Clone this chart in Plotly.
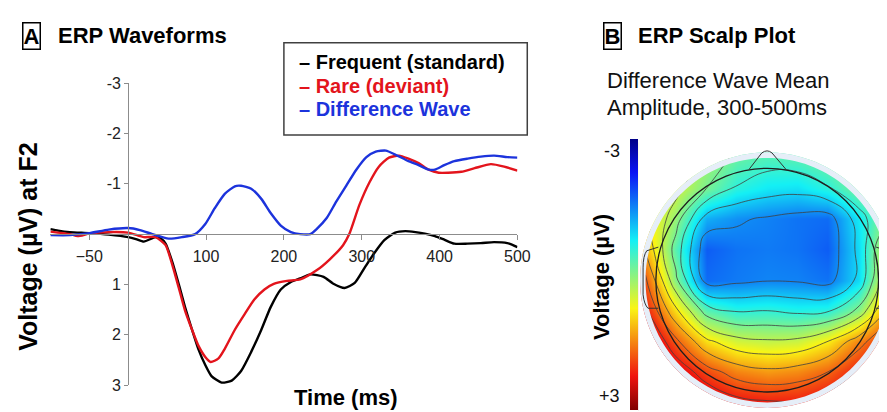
import numpy as np
import plotly.graph_objects as go

W, H = 887, 412
def px(x):
    return x / W
def py(y):
    return 1 - y / H

FONT = "Liberation Sans, Arial, Helvetica, sans-serif"

# ---------------- Panel A: ERP waveforms (voltage in µV, time in ms) -------------
time_freq = [-100, -90, -75, -50, -25, 0, 10, 20, 35, 42, 48, 57, 65, 73, 82, 90, 99, 107, 120,
             133, 145, 158, 171, 183, 196, 209, 221, 234, 251, 263, 278, 291, 304, 316, 329,
             343, 356, 369, 381, 394, 406, 419, 436, 453, 470, 487, 500]
volt_freq = [-0.10, -0.07, -0.04, -0.02, 0.01, 0.06, 0.10, 0.15, 0.06, 0.09, 0.19, 0.57, 1.00,
             1.45, 1.90, 2.28, 2.60, 2.82, 2.95, 2.91, 2.72, 2.34, 1.90, 1.45, 1.10, 0.95, 0.88,
             0.80, 0.85, 0.98, 1.07, 0.97, 0.66, 0.38, 0.12, -0.03, -0.06, -0.04, -0.01, 0.04,
             0.11, 0.19, 0.19, 0.18, 0.16, 0.18, 0.26]

time_rare = [-100, -75, -65, -50, -25, 0, 20, 35, 48, 57, 65, 73, 82, 90, 99, 106, 116, 124,
             137, 150, 162, 175, 187, 204, 221, 242, 259, 276, 284, 297, 310, 322, 335, 348,
             360, 373, 386, 399, 411, 428, 445, 466, 483, 500]
volt_rare = [-0.05, 0.00, 0.04, -0.01, -0.04, -0.03, 0.06, 0.06, 0.22, 0.63, 1.07, 1.52, 1.90,
             2.21, 2.44, 2.54, 2.47, 2.28, 1.90, 1.58, 1.30, 1.10, 0.99, 0.93, 0.90, 0.72, 0.50,
             0.22, 0.00, -0.58, -1.03, -1.34, -1.52, -1.56, -1.50, -1.41, -1.28, -1.22, -1.22,
             -1.24, -1.31, -1.39, -1.34, -1.26]

time_diff = [-100, -75, -50, -25, 0, 15, 31, 52, 69, 86, 99, 111, 124, 137, 145, 158, 171, 183,
             196, 209, 221, 234, 242, 255, 267, 280, 293, 306, 318, 331, 343, 360, 373, 386,
             394, 406, 419, 436, 453, 470, 487, 500]
volt_diff = [0.02, 0.02, -0.02, -0.09, -0.12, -0.08, 0.00, 0.09, 0.06, 0.00, -0.20, -0.51,
             -0.80, -0.95, -0.96, -0.90, -0.70, -0.42, -0.17, -0.04, 0.00, 0.00, -0.10, -0.32,
             -0.64, -0.96, -1.28, -1.53, -1.64, -1.66, -1.58, -1.45, -1.37, -1.28, -1.28, -1.37,
             -1.45, -1.50, -1.54, -1.56, -1.53, -1.52]

series_names = ["Frequent (standard)", "Rare (deviant)", "Difference Wave"]
series_colors = ["#000000", "#e3141c", "#1c33dc"]

x_tickvals = [-50, 100, 200, 300, 400, 500]
y_tickvals = [-3, -2, -1, 1, 2, 3]
y_ticktext = ["-3", "-2", "-1", "1", "2", "3"]

# ---------------- Panel B: scalp map (µV on a grid over the head, unit radius) ----
scalp_u = [-1.0, -0.75, -0.5, -0.25, 0.0, 0.25, 0.5, 0.75, 1.0]
scalp_v_top_down = [1.0, 0.75, 0.5, 0.25, 0.0, -0.25, -0.5, -0.75, -1.0]
scalp_rows = [
    [1.0, 0.6, 0.2, -0.2, -0.35, -0.3, -0.1, 0.2, 0.5],
    [0.9, 0.5, -0.1, -0.6, -0.8, -0.85, -0.6, -0.1, 0.3],
    [0.9, 0.1, -1.2, -1.4, -1.5, -1.6, -1.65, -0.8, 0.1],
    [1.2, -0.3, -1.75, -1.6, -1.55, -1.6, -1.75, -0.9, 0.6],
    [1.8, 0.0, -1.65, -1.55, -1.48, -1.5, -1.6, -0.9, 0.8],
    [2.2, 0.9, -0.3, -0.6, -0.55, -0.65, -0.6, 0.0, 1.4],
    [2.8, 1.8, 0.9, 0.5, 0.4, 0.45, 0.8, 1.5, 2.2],
    [3.2, 2.5, 1.9, 1.5, 1.35, 1.45, 1.7, 2.2, 2.8],
    [3.5, 3.0, 2.6, 2.3, 2.2, 2.2, 2.4, 2.7, 3.0],
]
scalp_v = scalp_v_top_down[::-1]
scalp_volt = np.array(scalp_rows[::-1])

cb_limits = [-3, 3]

# jet colour map (low voltage = dark blue, high voltage = dark red)
jet = [[0.0, "rgb(0,0,135)"], [0.125, "rgb(10,20,245)"], [0.375, "rgb(20,240,245)"],
       [0.625, "rgb(250,245,20)"], [0.875, "rgb(240,20,15)"], [1.0, "rgb(128,0,0)"]]
# colour bar has -3 at the top, so plot the negated field with the flipped map
jet_flipped = [[1 - s, c] for s, c in jet[::-1]]

fig = go.Figure()

for t, v, name, col in zip([time_freq, time_rare, time_diff],
                           [volt_freq, volt_rare, volt_diff], series_names, series_colors):
    fig.add_trace(go.Scatter(x=t, y=v, mode="lines", name=name, showlegend=False,
                             line=dict(color=col, width=2.4, shape="spline", smoothing=0.6),
                             xaxis="x", yaxis="y"))

fig.add_trace(go.Heatmap(
    x=scalp_u, y=scalp_v, z=-scalp_volt, customdata=scalp_volt,
    zmin=-cb_limits[1], zmax=-cb_limits[0], colorscale=jet_flipped, zsmooth="best",
    xaxis="x2", yaxis="y2", hovertemplate="%{customdata:.2f} µV<extra></extra>",
    colorbar=dict(x=px(631), xanchor="left", xpad=0, ypad=0, thickness=8,
                  lenmode="pixels", len=271, y=py(269.5), yanchor="middle",
                  showticklabels=False, ticks="", outlinewidth=0)))

fig.add_trace(go.Contour(
    x=scalp_u, y=scalp_v, z=scalp_volt, xaxis="x2", yaxis="y2", showscale=False,
    contours=dict(start=-1.45, end=3.0, size=0.45, coloring="lines"),
    colorscale=[[0, "#404040"], [1, "#404040"]],
    line=dict(width=0.8, smoothing=1.3), hoverinfo="skip"))

axis_col = "#8c8c8c"
tick_font = dict(family=FONT, size=16, color="#222222")

fig.update_layout(
    width=W, height=H, autosize=False, margin=dict(l=0, r=0, t=0, b=0),
    paper_bgcolor="white", plot_bgcolor="rgba(0,0,0,0)",
    xaxis=dict(domain=[px(43), px(517)], range=[-100, 500], anchor="free",
               position=(py(385) + py(70)) / 2, showline=True, linecolor=axis_col,
               linewidth=1, ticks="outside", ticklen=5, tickcolor=axis_col,
               tickvals=x_tickvals, tickfont=tick_font, showgrid=False, zeroline=False,
               ticklabelstandoff=3),
    yaxis=dict(domain=[py(385), py(70)], range=[3, -3], anchor="free", position=px(122),
               showline=True, linecolor=axis_col, linewidth=1, ticks="outside", ticklen=4,
               tickcolor=axis_col, tickvals=y_tickvals, ticktext=y_ticktext,
               tickfont=tick_font, showgrid=False, zeroline=False),
    xaxis2=dict(domain=[px(640), 1.0], range=[(640 - 770.5) / 123.5, (887 - 770.5) / 123.5],
                visible=False, anchor="y2", fixedrange=True),
    yaxis2=dict(domain=[0.0, py(130)], range=[(275.5 - 412) / 127.5, (275.5 - 130) / 127.5],
                visible=False, anchor="x2", fixedrange=True),
)

# ---- scalp mask, halo ring, head outline, nose, ears ----
def circle_path(r, n=160):
    th = np.linspace(0, 2 * np.pi, n, endpoint=False)
    pts = " L ".join(f"{r*np.cos(a):.4f},{r*np.sin(a):.4f}" for a in th)
    return f"M {pts} Z"

rect = "M -3,-3 L 3,-3 L 3,3 L -3,3 Z"
shapes = [
    dict(type="path", path=rect + " " + circle_path(1.045), xref="x2", yref="y2",
         fillcolor="white", fillrule="evenodd", line=dict(width=0), layer="above"),
    dict(type="path", path=circle_path(1.045) + " " + circle_path(1.0), xref="x2", yref="y2",
         fillcolor="#e6eef8", fillrule="evenodd", line=dict(width=0), layer="above"),
    dict(type="circle", x0=-0.915, x1=0.915, y0=-0.915, y1=0.915, xref="x2", yref="y2",
         line=dict(color="#1e1e1e", width=1.3), layer="above"),
    dict(type="path", xref="x2", yref="y2", layer="above", line=dict(color="#333", width=1),
         path="M -0.15,0.905 L -0.045,1.04 Q 0,1.075 0.04,1.04 L 0.155,0.905"),
    dict(type="path", xref="x2", yref="y2", layer="above", line=dict(color="#333", width=1),
         path="M -0.895,0.27 L -0.99,0.24 Q -1.02,0.2 -1.02,0.1 L -1.02,-0.12 "
              "Q -1.01,-0.2 -0.98,-0.23 L -0.895,-0.23"),
    dict(type="path", xref="x2", yref="y2", layer="above", line=dict(color="#333", width=1),
         path="M 0.895,0.27 L 0.99,0.24 Q 1.02,0.2 1.02,0.1 L 1.02,-0.12 "
              "Q 1.01,-0.2 0.98,-0.23 L 0.895,-0.23"),
    # legend frame
    dict(type="rect", xref="paper", yref="paper", x0=px(280), x1=px(527), y0=py(124),
         y1=py(28), line=dict(color="#404040", width=1.5), fillcolor="rgba(0,0,0,0)"),
]
fig.update_layout(shapes=shapes)

def ann(text, x, y, size, color="#000", bold=False, xanchor="left", angle=0, **kw):
    t = f"<b>{text}</b>" if bold else text
    fig.add_annotation(text=t, x=px(x), y=py(y), xref="paper", yref="paper",
                       xanchor=xanchor, yanchor="middle", showarrow=False, textangle=angle,
                       font=dict(family=FONT, size=size, color=color), **kw)

ann("A", 24, 21, 22, bold=True, xanchor="center", bordercolor="#000", borderwidth=1.5,
    borderpad=0)
ann("ERP Waveforms", 49, 20, 22, bold=True)
ann("B", 613, 21, 22, bold=True, xanchor="center", bordercolor="#000", borderwidth=1.5,
    borderpad=0)
ann("ERP Scalp Plot", 637, 20, 22, bold=True)
ann("Difference Wave Mean", 606, 67, 22, color="#111")
ann("Amplitude, 300-500ms", 606, 95, 22, color="#111")

legend_y = [48, 73, 97]
for name, col, yy in zip(series_names, series_colors, legend_y):
    ann("– " + name, 293, yy, 20, color=col, bold=True)

ann("Time (ms)", 343, 398, 22, bold=True, xanchor="center")
ann("Voltage (µV) at F2", 20, 241, 25, bold=True, xanchor="center", angle=-90)
ann("Voltage (µV)", 603, 272, 22, bold=True, xanchor="center", angle=-90)
ann("-3", 623, 141, 18, color="#111", xanchor="right")
ann("+3", 623, 396, 18, color="#111", xanchor="right")

fig.write_html("out.html")
